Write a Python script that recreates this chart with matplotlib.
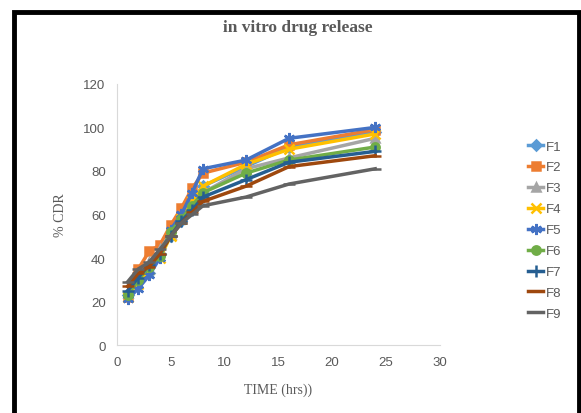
import matplotlib.pyplot as plt
from matplotlib.patches import Rectangle

# sampling times (hrs)
time_hrs = [1, 2, 3, 4, 5, 6, 7, 8, 12, 16, 24]

# % cumulative drug release for each formulation
f1 = [23, 30, 33, 42, 50, 57, 66, 73, 82, 91, 98]
f2 = [22, 35, 43, 46, 55, 63, 72, 79, 84, 92, 99]
f3 = [24, 32, 38, 44, 51, 58, 65, 70, 81, 86, 95]
f4 = [22, 28, 35, 40, 50, 58, 66, 73, 83, 90, 97]
f5 = [21, 26, 32, 40, 53, 60, 70, 81, 85, 95, 100]
f6 = [23, 30, 36, 41, 52, 58, 64, 70, 79, 85, 91]
f7 = [25, 31, 37, 42, 50, 57, 62, 68, 76, 84, 89]
f8 = [27, 33, 36, 42, 50, 56, 61, 66, 73, 82, 87]
f9 = [29, 35, 38, 44, 50, 56, 60, 64, 68, 74, 81]

series_names = ["F1", "F2", "F3", "F4", "F5", "F6", "F7", "F8", "F9"]
series_values = [f1, f2, f3, f4, f5, f6, f7, f8, f9]

colors = ["#5B9BD5", "#ED7D31", "#A5A5A5", "#FFC000", "#4472C4",
          "#70AD47", "#255E91", "#9E480E", "#636363"]
markers = ["D", "s", "^", "x", (6, 2, 0), "o", "+", "_", "_"]
msizes = [5, 6, 6, 7, 8, 6, 8, 8, 8]

text_col = "#595959"
sans = "Liberation Sans"

fig = plt.figure(figsize=(5.81, 4.14), dpi=100)
ax = fig.add_axes([0.201, 0.164, 0.556, 0.631])

for name, vals, c, m, ms in zip(series_names, series_values, colors, markers, msizes):
    ax.plot(time_hrs, vals, color=c, lw=2.5, marker=m, ms=ms, mew=1.8,
            mfc=c, mec=c, label=name)

ax.set_xlim(0, 30)
ax.set_ylim(0, 120)
ax.set_xticks(range(0, 31, 5))
ax.set_yticks(range(0, 121, 20))
ax.tick_params(length=0, labelsize=9.5, colors=text_col, pad=8)
for lab in ax.get_xticklabels() + ax.get_yticklabels():
    lab.set_family(sans)
for s in ["top", "right"]:
    ax.spines[s].set_visible(False)
for s in ["left", "bottom"]:
    ax.spines[s].set_color("#D9D9D9")

ax.set_xlabel("TIME (hrs))", family="Liberation Serif", fontsize=10,
              color=text_col, labelpad=10)
ax.set_ylabel("% CDR", family="Liberation Serif", fontsize=10,
              color=text_col, labelpad=12)

fig.text(0.513, 0.932, "in vitro drug release", family="Liberation Serif",
         fontweight="bold", fontsize=12.5, color=text_col, ha="center", va="center")

ax.legend(loc="center left", bbox_to_anchor=(1.235, 0.44), frameon=False,
          prop={"family": sans, "size": 9.5}, labelcolor=text_col,
          handlelength=1.2, handletextpad=0.2, labelspacing=0.66)

# black frame around the chart
fig.patches.append(Rectangle((14 / 581, -0.05), 565 / 581, 1 - 13 / 414 + 0.05,
                             transform=fig.transFigure, fill=False,
                             ec="black", lw=3.5))

fig.savefig("out.png", dpi=100)
